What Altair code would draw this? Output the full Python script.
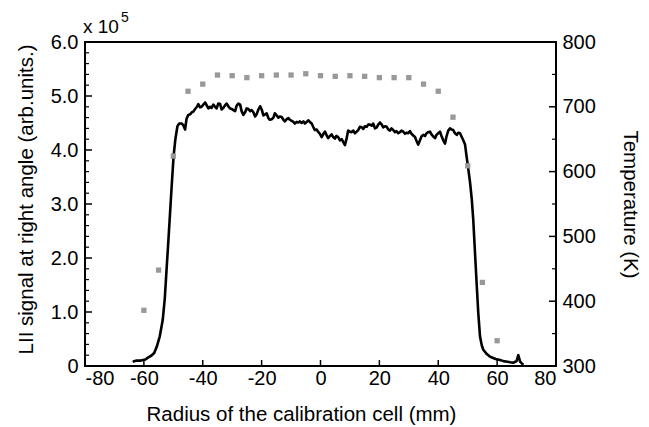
import altair as alt
import pandas as pd

# LII signal (x 10^5, arb. units) vs radius (mm)
radius = [-63.8, -62.5, -61.0, -59.5, -58.5, -57.5, -56.5, -55.6, -54.6, -53.6, -52.9, -52.3, -51.7, -51.1, -50.5, -49.9,
          -49.3, -48.6, -48.0, -47.2, -46.6, -46.0, -45.5, -44.9, -44.3, -43.7, -43.2, -42.6, -42.0, -41.5, -40.9, -40.4,
          -39.8, -39.2, -38.6, -38.1, -37.5, -37.0, -36.4, -35.8, -35.3, -34.7, -34.1, -33.6, -33.0, -32.4, -31.9, -31.2,
          -30.7, -30.2, -29.6, -29.0, -28.5, -27.9, -27.3, -26.8, -26.2, -25.6, -25.1, -24.5, -23.9, -23.4, -22.8, -22.2,
          -21.7, -21.1, -20.5, -19.9, -19.4, -18.8, -18.3, -17.7, -17.2, -16.6, -16.0, -15.5, -14.9, -14.3, -13.8, -13.2,
          -12.6, -12.1, -11.5, -10.9, -10.4, -9.8, -9.2, -8.7, -8.1, -7.5, -7.0, -6.4, -5.8, -5.3, -4.7, -4.1,
          -3.6, -3.0, -2.4, -1.9, -1.3, -0.7, -0.2, 0.4, 1.0, 1.5, 2.1, 2.6, 3.2, 3.8, 4.3, 4.9,
          5.4, 6.0, 6.6, 7.2, 7.7, 8.3, 8.9, 9.4, 10.0, 10.6, 11.1, 11.7, 12.3, 12.8, 13.4, 14.0,
          14.5, 15.1, 15.7, 16.2, 16.8, 17.4, 17.9, 18.5, 19.1, 19.6, 20.2, 20.8, 21.3, 21.9, 22.5, 23.0,
          23.6, 24.1, 24.7, 25.3, 25.8, 26.4, 27.0, 27.5, 28.1, 28.7, 29.2, 29.8, 30.4, 30.9, 31.5, 32.1,
          32.6, 33.2, 33.8, 34.3, 34.9, 35.5, 36.0, 36.6, 37.2, 37.7, 38.3, 38.9, 39.4, 40.0, 40.6, 41.1,
          41.7, 42.3, 42.8, 43.4, 44.0, 44.5, 45.1, 45.7, 46.3, 46.8, 47.4, 47.9, 48.5, 49.1, 49.7, 50.2,
          50.8, 51.4, 51.9, 52.5, 53.1, 53.6, 54.2, 54.8, 55.3, 56.5, 57.6, 59.5, 61.0, 62.1, 63.5, 64.4,
          65.5, 66.6, 67.2, 67.8, 68.9]
signal = [0.08, 0.10, 0.10, 0.12, 0.16, 0.19, 0.24, 0.36, 0.55, 0.85, 1.25, 1.78, 2.30, 2.84, 3.38, 3.89,
          4.20, 4.44, 4.49, 4.49, 4.46, 4.38, 4.58, 4.65, 4.66, 4.70, 4.71, 4.76, 4.80, 4.85, 4.79, 4.80,
          4.84, 4.88, 4.82, 4.77, 4.80, 4.78, 4.84, 4.80, 4.77, 4.86, 4.85, 4.75, 4.78, 4.83, 4.86, 4.80,
          4.77, 4.76, 4.74, 4.72, 4.82, 4.86, 4.84, 4.72, 4.65, 4.70, 4.77, 4.76, 4.72, 4.74, 4.70, 4.62,
          4.66, 4.75, 4.81, 4.74, 4.64, 4.66, 4.68, 4.59, 4.56, 4.57, 4.60, 4.68, 4.64, 4.60, 4.62, 4.61,
          4.56, 4.53, 4.57, 4.59, 4.56, 4.54, 4.52, 4.49, 4.52, 4.51, 4.53, 4.50, 4.53, 4.49, 4.52, 4.55,
          4.52, 4.49, 4.42, 4.37, 4.38, 4.33, 4.30, 4.24, 4.30, 4.34, 4.27, 4.22, 4.26, 4.29, 4.24, 4.21,
          4.26, 4.24, 4.18, 4.20, 4.15, 4.09, 4.22, 4.36, 4.34, 4.33, 4.36, 4.31, 4.34, 4.37, 4.43, 4.42,
          4.39, 4.44, 4.43, 4.47, 4.47, 4.45, 4.49, 4.40, 4.42, 4.47, 4.51, 4.47, 4.42, 4.44, 4.43, 4.38,
          4.36, 4.40, 4.37, 4.33, 4.35, 4.31, 4.33, 4.36, 4.34, 4.30, 4.32, 4.31, 4.35, 4.30, 4.27, 4.24,
          4.17, 4.10, 4.18, 4.25, 4.28, 4.26, 4.31, 4.33, 4.34, 4.29, 4.25, 4.22, 4.28, 4.31, 4.34, 4.26,
          4.18, 4.12, 4.25, 4.36, 4.40, 4.38, 4.37, 4.31, 4.28, 4.32, 4.31, 4.25, 4.18, 4.10, 3.85, 3.65,
          3.40, 3.08, 2.70, 2.08, 1.47, 0.98, 0.54, 0.38, 0.30, 0.22, 0.17, 0.13, 0.11, 0.09, 0.08, 0.07,
          0.06, 0.09, 0.20, 0.08, 0.02]

# Temperature (K) vs radius (mm)
t_radius = [-60, -55, -50, -45, -40, -35, -30, -25, -20, -15, -10, -5, 0, 5, 10, 15, 20, 25, 30, 35, 40, 45, 50, 55, 60]
temperature = [386, 448, 624, 724, 735, 749, 748, 745, 748, 749, 749, 751, 748, 747, 748, 747, 745, 745, 745, 735,
               724, 684, 609, 429, 339]

x_ticks = [-80, -60, -40, -20, 0, 20, 40, 60, 80]
y_left_ticks = [0, 1, 2, 3, 4, 5, 6]
y_left_minor = [round(i * 0.2, 1) for i in range(31) if i % 5 != 0]
y_right_ticks = [300, 400, 500, 600, 700, 800]
y_right_minor = [350, 450, 550, 650, 750]

W, H = 471, 324
FONT = "Liberation Sans"
LFS = 20     # tick label font size
TFS = 20.5   # axis title font size

df_line = pd.DataFrame({"r": radius, "v": signal})
df_t = pd.DataFrame({"r": t_radius, "T": temperature})

xscale = alt.Scale(domain=[-80, 80], nice=False, zero=False)
yl_scale = alt.Scale(domain=[0, 6], nice=False)
yr_scale = alt.Scale(domain=[300, 800], nice=False, zero=False)

x_axis = alt.Axis(values=x_ticks, labelExpr="'' + datum.value", ticks=False, tickSize=0, domain=False,
                  grid=False, labelPadding=2, labelFontSize=LFS, titleFontSize=TFS, labelFont=FONT,
                  titleFont=FONT, labelColor="black", titleColor="black", titleFontWeight="normal",
                  title="Radius of the calibration cell (mm)", titleX=216, titleY=54,
                  titleAlign="center", titleBaseline="alphabetic", titleAnchor="middle")

yl_axis = alt.Axis(values=y_left_ticks, ticks=False, tickSize=0, domain=False, grid=False, orient="left",
                   labelExpr="datum.value == 0 ? '0' : format(datum.value, '.1f')",
                   labelPadding=7, labelFontSize=LFS, titleFontSize=TFS, labelFont=FONT, titleFont=FONT,
                   labelColor="black", titleColor="black", titleFontWeight="normal",
                   title="LII signal at right angle (arb.units.)", titleX=-53, titleY=157,
                   titleAngle=270, titleAlign="center", titleBaseline="alphabetic")

yr_axis = alt.Axis(values=y_right_ticks, labelExpr="'' + datum.value", ticks=False, tickSize=0,
                   domain=False, grid=False, orient="right", labelPadding=6, labelFontSize=LFS,
                   titleFontSize=TFS, labelFont=FONT, titleFont=FONT, labelColor="black",
                   titleColor="black", titleFontWeight="normal",
                   title="Temperature (K)", titleX=67, titleY=162, titleAngle=90,
                   titleAlign="center", titleBaseline="alphabetic")

X = alt.X("r:Q", scale=xscale, axis=x_axis)

line = alt.Chart(df_line).mark_line(color="black", strokeWidth=2.6, strokeJoin="round").encode(
    x=X,
    y=alt.Y("v:Q", scale=yl_scale, axis=yl_axis),
    order="r:Q",
)

xt = alt.Chart(pd.DataFrame({"r": x_ticks})).mark_rule(color="black", strokeWidth=1.5).encode(
    x=X, y=alt.value(H), y2=alt.value(H - 6))
ylt = alt.Chart(pd.DataFrame({"v": y_left_ticks})).mark_rule(color="black", strokeWidth=1.5).encode(
    y=alt.Y("v:Q", scale=yl_scale, axis=yl_axis), x=alt.value(0), x2=alt.value(7))
ylm = alt.Chart(pd.DataFrame({"v": y_left_minor})).mark_rule(color="black", strokeWidth=1.2).encode(
    y=alt.Y("v:Q", scale=yl_scale, axis=yl_axis), x=alt.value(0), x2=alt.value(4))

left_layer = alt.layer(line, xt, ylt, ylm)

pts = alt.Chart(df_t).mark_square(size=28, color="#999999", opacity=1).encode(
    x=X,
    y=alt.Y("T:Q", scale=yr_scale, axis=yr_axis),
)
yrt = alt.Chart(pd.DataFrame({"T": y_right_ticks})).mark_rule(color="black", strokeWidth=1.5).encode(
    y=alt.Y("T:Q", scale=yr_scale, axis=yr_axis), x=alt.value(W), x2=alt.value(W - 7))
yrm = alt.Chart(pd.DataFrame({"T": y_right_minor})).mark_rule(color="black", strokeWidth=1.2).encode(
    y=alt.Y("T:Q", scale=yr_scale, axis=yr_axis), x=alt.value(W), x2=alt.value(W - 4))

right_layer = alt.layer(pts, yrt, yrm)

mult = alt.Chart(pd.DataFrame({"t": ["x 10"]})).mark_text(
    font=FONT, fontSize=19, align="left", baseline="alphabetic", color="black").encode(
    x=alt.value(-2), y=alt.value(-9), text="t:N")
exp_ = alt.Chart(pd.DataFrame({"t": ["5"]})).mark_text(
    font=FONT, fontSize=14, align="left", baseline="alphabetic", color="black").encode(
    x=alt.value(36), y=alt.value(-20), text="t:N")

chart = alt.layer(left_layer, right_layer, mult, exp_).resolve_scale(y="independent").properties(
    width=W, height=H,
    autosize=alt.AutoSizeParams(type="none"),
    padding={"left": 77, "top": 34, "right": 85, "bottom": 62},
).configure_view(stroke="black", strokeWidth=2)

chart.save("out.html", embed_options={"renderer": "svg", "actions": False})
